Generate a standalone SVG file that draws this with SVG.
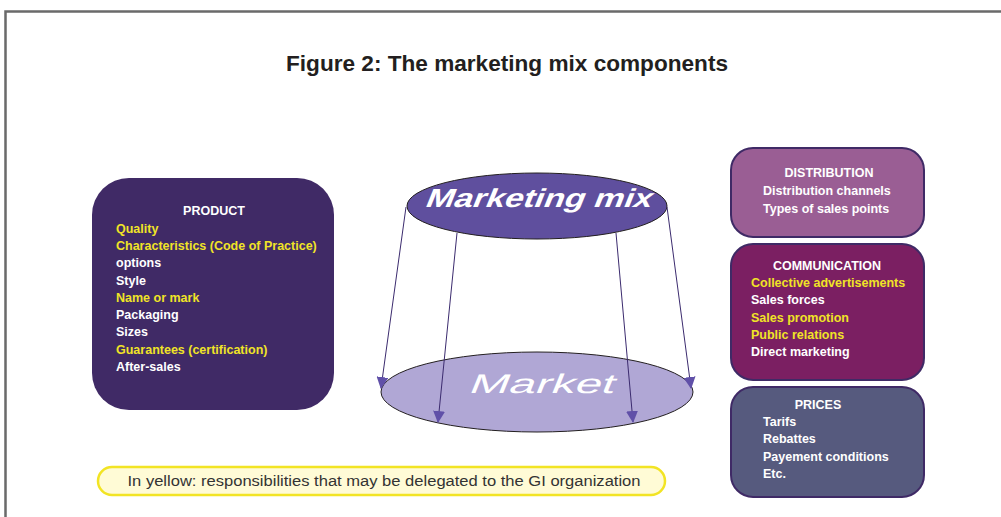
<svg xmlns="http://www.w3.org/2000/svg" width="1001" height="517" viewBox="0 0 1001 517">
<defs>
<style>
.t{font-family:"Liberation Sans",Arial,sans-serif;font-weight:bold;font-size:12.5px}
.w{fill:#ffffff}
.y{fill:#f0e426}
.h{fill:#ffffff;text-anchor:middle}
.conn{stroke:#3b2b6e;stroke-width:1;fill:none;marker-end:url(#ah)}
.box{stroke:#3f2a66;stroke-width:2}
</style>
<marker id="ah" viewBox="0 0 12 12" refX="11" refY="6" markerWidth="12" markerHeight="12" markerUnits="userSpaceOnUse" orient="auto">
<path d="M0,0 L12,6 L0,12 Z" fill="#6050a8"/>
</marker>
</defs>
<rect width="1001" height="517" fill="#ffffff"/>
<path d="M5.5,517 V11.5 H1001" fill="none" stroke="#6a6a6a" stroke-width="2.5"/>
<text x="507" y="71" text-anchor="middle" font-family="Liberation Sans,Arial,sans-serif" font-weight="bold" font-size="22" fill="#231f20" textLength="442" lengthAdjust="spacingAndGlyphs">Figure 2: The marketing mix components</text>

<g id="market">
<ellipse cx="537" cy="392" rx="156" ry="40" fill="#b0a7d5" stroke="#231f20" stroke-width="1"/>
<text transform="translate(540,393) skewX(-22)" x="0" y="0" text-anchor="middle" font-family="Liberation Sans,Arial,sans-serif" font-size="27" fill="#ffffff" textLength="145" lengthAdjust="spacingAndGlyphs">Market</text>
</g>

<g id="marketing-mix">
<ellipse cx="537" cy="206" rx="130" ry="33" fill="#5f4f9e" stroke="#231f20" stroke-width="1"/>
<text transform="translate(537,207) skewX(-22)" x="0" y="0" text-anchor="middle" font-family="Liberation Sans,Arial,sans-serif" font-weight="bold" font-size="26" fill="#ffffff" textLength="226" lengthAdjust="spacingAndGlyphs">Marketing mix</text>
</g>

<g id="connectors">
<line class="conn" x1="406" y1="207" x2="381" y2="388"/>
<line class="conn" x1="457" y1="233" x2="438" y2="422"/>
<line class="conn" x1="616" y1="233" x2="633" y2="422"/>
<line class="conn" x1="667" y1="207" x2="691" y2="388"/>
</g>

<g id="product">
<rect x="92" y="178" width="242" height="232" rx="37" fill="#402a66"/>
<text class="t h" x="214" y="215">PRODUCT</text>
<text class="t y" x="116" y="233">Quality</text>
<text class="t y" x="116" y="250">Characteristics (Code of Practice)</text>
<text class="t w" x="116" y="267">options</text>
<text class="t w" x="116" y="285">Style</text>
<text class="t y" x="116" y="302">Name or mark</text>
<text class="t w" x="116" y="319">Packaging</text>
<text class="t w" x="116" y="336">Sizes</text>
<text class="t y" x="116" y="354">Guarantees (certification)</text>
<text class="t w" x="116" y="371">After-sales</text>
</g>

<g id="distribution">
<rect class="box" x="731" y="148" width="193" height="89" rx="22" fill="#9a5e94"/>
<text class="t h" x="829" y="177">DISTRIBUTION</text>
<text class="t w" x="763" y="195">Distribution channels</text>
<text class="t w" x="763" y="213">Types of sales points</text>
</g>

<g id="communication">
<rect class="box" x="731" y="244" width="193" height="136" rx="22" fill="#7b1f62"/>
<text class="t h" x="827" y="270">COMMUNICATION</text>
<text class="t y" x="751" y="287">Collective advertisements</text>
<text class="t w" x="751" y="304">Sales forces</text>
<text class="t y" x="751" y="322">Sales promotion</text>
<text class="t y" x="751" y="339">Public relations</text>
<text class="t w" x="751" y="356">Direct marketing</text>
</g>

<g id="prices">
<rect class="box" x="731" y="387" width="193" height="110" rx="22" fill="#565a7e"/>
<text class="t h" x="818" y="409">PRICES</text>
<text class="t w" x="763" y="426">Tarifs</text>
<text class="t w" x="763" y="443">Rebattes</text>
<text class="t w" x="763" y="461">Payement conditions</text>
<text class="t w" x="763" y="478">Etc.</text>
</g>

<g id="legend">
<rect x="98" y="467" width="567" height="28" rx="14" fill="#fffbd6" stroke="#f2e424" stroke-width="2.5"/>
<text x="384" y="486" text-anchor="middle" font-family="Liberation Sans,Arial,sans-serif" font-size="15.5" fill="#333333" textLength="513" lengthAdjust="spacingAndGlyphs">In yellow: responsibilities that may be delegated to the GI organization</text>
</g>
</svg>
